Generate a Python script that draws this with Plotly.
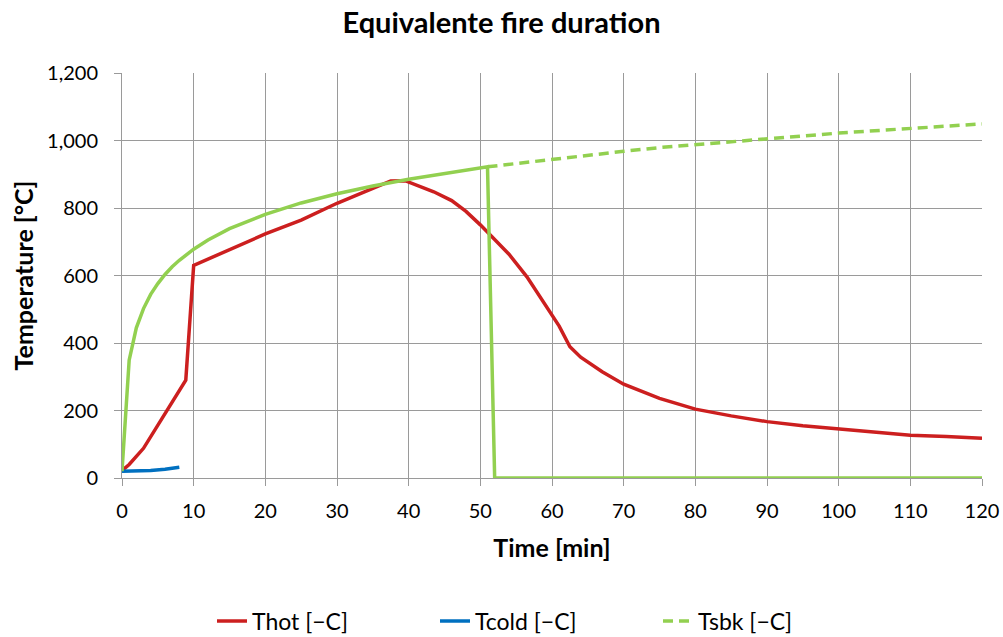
import plotly.graph_objects as go

# ---- data ----
hot_t = [0, 1, 3, 6.2, 8.9, 10, 15, 20, 25, 30, 35, 37.5, 39.5, 41.5, 43.5, 46, 48, 50,
         52, 54, 56.5, 59.3, 61, 62.5, 64, 67, 70, 75, 80, 85, 90, 95, 100, 105, 110, 115, 120]
hot_v = [22, 40, 88, 196, 290, 630, 676, 723, 764, 814, 858, 880, 881, 864, 848, 822, 790, 750,
         706, 663, 596, 508, 450, 389, 358, 315, 278, 236, 204, 184, 167, 155, 145, 136, 127, 123, 118]

cold_t = [0, 2, 4, 6, 8]
cold_v = [20, 21, 22, 26, 32]

sbk_t = [0, 1, 2, 3, 4, 5, 6, 7, 8, 9, 10, 12, 15, 20, 25, 30, 35, 40, 45, 50, 51, 52, 120]
sbk_v = [20, 349, 445, 502, 544, 576, 603, 626, 645, 663, 678, 705, 739, 781, 815, 842, 865,
         885, 902, 918, 922, 0, 0]

sbk_dash_t = [51, 55, 60, 65, 70, 75, 80, 85, 90, 95, 100, 105, 110, 115, 120]
sbk_dash_v = [922, 932, 945, 957, 968, 979, 988, 997, 1006, 1014, 1022, 1029, 1036, 1043, 1049]

x_ticks = [0, 10, 20, 30, 40, 50, 60, 70, 80, 90, 100, 110, 120]
y_ticks = [0, 200, 400, 600, 800, 1000, 1200]

RED = "#CC1F1F"
BLUE = "#0070C0"
GREEN = "#92D050"
GRID = "#9A9A9A"
FONT = "Lato"

fig = go.Figure()
fig.add_trace(go.Scatter(x=hot_t, y=hot_v, mode="lines", name="Thot [\u2212C]",
                         line=dict(color=RED, width=3.5)))
fig.add_trace(go.Scatter(x=cold_t, y=cold_v, mode="lines", name="Tcold [\u2212C]",
                         line=dict(color=BLUE, width=3.5)))
fig.add_trace(go.Scatter(x=sbk_t, y=sbk_v, mode="lines", name="Tsbk [\u2212C]", showlegend=False,
                         line=dict(color=GREEN, width=3.5)))
fig.add_trace(go.Scatter(x=sbk_dash_t, y=sbk_dash_v, mode="lines", name="Tsbk [\u2212C]",
                         line=dict(color=GREEN, width=3.5, dash="10px,6px")))

fig.update_layout(
    width=1003, height=637,
    margin=dict(l=122, r=21, t=73, b=159, autoexpand=False),
    paper_bgcolor="white", plot_bgcolor="white",
    font=dict(family=FONT, color="black", size=20),
    title=dict(text="<b>Equivalente fire duration</b>", x=0.5, xref="container", xanchor="center",
               y=1 - 23 / 637, yref="container", yanchor="middle", font=dict(size=29, family=FONT)),
    legend=dict(orientation="h", xref="container", x=0.5 + 45 / 1003, xanchor="center",
                yref="container", y=1 - 621 / 637, yanchor="middle",
                font=dict(size=23, family=FONT), entrywidthmode="pixels", entrywidth=178,
                bgcolor="rgba(0,0,0,0)"),
    showlegend=True,
)
fig.update_xaxes(range=[0, 120], tickvals=x_ticks, showgrid=True, gridcolor=GRID, gridwidth=1,
                 showline=True, linecolor=GRID, linewidth=1, ticks="outside", ticklen=7,
                 tickcolor=GRID, zeroline=False, automargin=False, ticklabelstandoff=8,
                 title=dict(text="<b>Time [min]</b>", font=dict(size=25), standoff=18),
                 tickfont=dict(size=20))
fig.update_yaxes(range=[0, 1200], tickvals=y_ticks, tickformat=",", showgrid=True,
                 gridcolor=GRID, gridwidth=1,
                 showline=True, linecolor=GRID, linewidth=1, ticks="outside", ticklen=7,
                 tickcolor=GRID, zeroline=False, automargin=False, ticklabelstandoff=12,
                 title=dict(text="<b>Temperature [\u00b0C]</b>", font=dict(size=25), standoff=6),
                 tickfont=dict(size=20))

fig.write_html("out.html", config={"displayModeBar": False},
               post_script="document.body.style.margin='0';document.body.style.overflow='hidden';")
